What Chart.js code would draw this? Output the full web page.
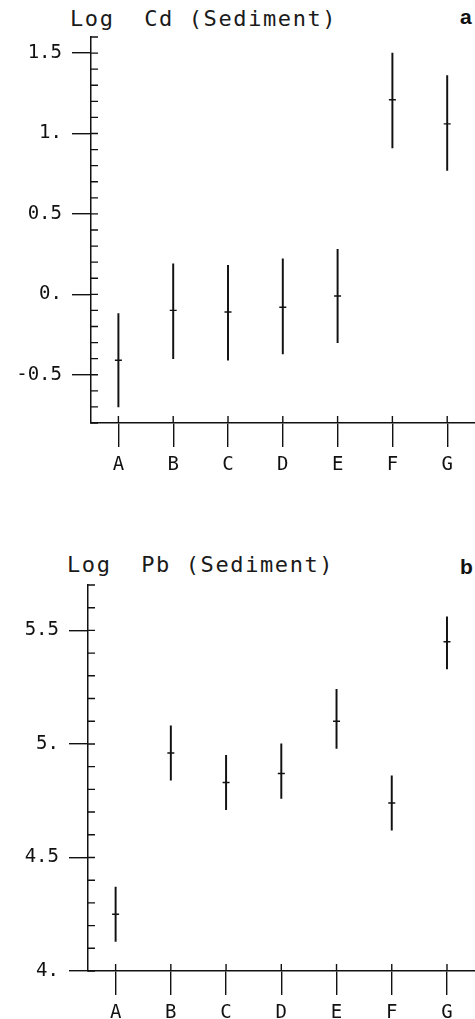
<!DOCTYPE html>
<html>
<head>
<meta charset="utf-8">
<script src="https://cdn.jsdelivr.net/npm/chart.js@4.4.1/dist/chart.umd.min.js"></script>
<style>
  html, body { margin: 0; padding: 0; background: #fff; }
  body { position: relative; width: 475px; height: 1019px; overflow: hidden; }
  canvas { position: absolute; left: 0; }
  .ttl { position: absolute; font-family: "DejaVu Sans Mono", monospace; font-size: 22px; line-height: 22px;
         letter-spacing: 1.6px; white-space: pre; color: #1a1a1a; }
  .tag { position: absolute; font-family: "Liberation Sans", Arial, sans-serif; font-weight: bold; font-size: 21px;
         line-height: 21px; color: #111; }
</style>
</head>
<body>
<div class="ttl" style="left:70px; top:8px;">Log  Cd (Sediment)</div>
<div class="tag" style="left:460px; top:6px;">a</div>
<canvas id="cdChart" width="480" height="480" style="top:0px; width:480px; height:480px;"></canvas>

<div class="ttl" style="left:67px; top:554px;">Log  Pb (Sediment)</div>
<div class="tag" style="left:460px; top:556px;">b</div>
<canvas id="pbChart" width="480" height="519" style="top:500px; width:480px; height:519px;"></canvas>

<script>
// sites along the x axis
const categories = ['A', 'B', 'C', 'D', 'E', 'F', 'G'];

// panel a - log Cd in sediment (mean and range ends)
const cdMean = [-0.41, -0.10, -0.11, -0.08, -0.01, 1.21, 1.06];
const cdLow  = [-0.70, -0.40, -0.41, -0.37, -0.30, 0.91, 0.77];
const cdHigh = [-0.12, 0.19, 0.18, 0.22, 0.28, 1.50, 1.36];

// panel b - log Pb in sediment
const pbMean = [4.25, 4.96, 4.83, 4.87, 5.10, 4.74, 5.45];
const pbLow  = [4.13, 4.84, 4.71, 4.76, 4.98, 4.62, 5.33];
const pbHigh = [4.37, 5.08, 4.95, 5.00, 5.24, 4.86, 5.56];

// y axis ranges (ticks every 0.1, labels every 0.5)
const cdRange = [-0.8, 1.6];
const pbRange = [4.0, 5.7];

const ink = '#111';
const tickFont = { family: '"DejaVu Sans Mono", monospace', size: 19 };

function isMajor(v) {//labelled tick every 0.5
  return Math.abs(v * 2 - Math.round(v * 2)) < 1e-6;
}
function fmtTick(v) {
  var r = Math.round(v * 10) / 10;
  if (Math.abs(r - Math.round(r)) < 1e-6) return Math.round(r) + '.';
  return r.toString();
}

// short ticks pointing into the plot (y) and up across the x axis
const tickMarks = {
  id: 'tickMarks',
  afterDraw(chart) {
    const ctx = chart.ctx, xs = chart.scales.x, ys = chart.scales.y;
    ctx.save();
    ctx.strokeStyle = ink;
    ctx.lineWidth = 1.4;
    ctx.beginPath();
    ys.ticks.forEach(function (t, i) {
      const py = ys.getPixelForTick(i);
      ctx.moveTo(ys.right, py);
      ctx.lineTo(ys.right + 7, py);
    });
    xs.ticks.forEach(function (t, i) {
      const px = xs.getPixelForTick(i);
      ctx.moveTo(px, xs.top);
      ctx.lineTo(px, xs.top - 7);
    });
    ctx.stroke();
    ctx.restore();
  }
};

function makeChart(id, mean, low, high, range, pad, yWidth, xHeight) {
  const ranges = low.map(function (l, i) { return [l, high[i]]; });
  return new Chart(document.getElementById(id), {
    type: 'bar',
    data: {
      labels: categories,
      datasets: [
        {
          type: 'bar',
          data: ranges,
          backgroundColor: ink,
          borderWidth: 0,
          barThickness: 1.3,
          order: 2
        },
        {
          type: 'line',
          data: mean,
          showLine: false,
          pointStyle: 'line',
          pointRadius: 3.5,
          pointBorderWidth: 1.4,
          borderColor: ink,
          backgroundColor: ink,
          order: 1
        }
      ]
    },
    options: {
      responsive: false,
      animation: false,
      devicePixelRatio: 1,
      layout: { padding: pad },
      plugins: { legend: { display: false }, tooltip: { enabled: false }, title: { display: false } },
      scales: {
        x: {
          offset: true,
          grid: { offset: false, drawOnChartArea: false, drawTicks: true, tickLength: 24, color: ink, lineWidth: 1.4 },
          border: { display: true, color: ink, width: 1.5 },
          ticks: { color: ink, font: tickFont, padding: 7, maxRotation: 0 },
          afterFit: function (s) { s.height = xHeight; }
        },
        y: {
          min: range[0],
          max: range[1],
          grid: {
            drawOnChartArea: false,
            drawTicks: true,
            tickLength: 19,
            lineWidth: 1.4,
            color: function (c) { return c.tick && isMajor(c.tick.value) ? ink : 'rgba(0,0,0,0)'; }
          },
          border: { display: true, color: ink, width: 1.5 },
          ticks: {
            stepSize: 0.1,
            autoSkip: false,
            padding: 10,
            color: ink,
            font: tickFont,
            callback: function (v) { return isMajor(v) ? fmtTick(v) : ''; }
          },
          afterFit: function (s) { s.width = yWidth; }
        }
      }
    },
    plugins: [tickMarks]
  });
}

makeChart('cdChart', cdMean, cdLow, cdHigh, cdRange, { top: 37, right: 2, bottom: 0, left: 0 }, 91, 57);
makeChart('pbChart', pbMean, pbLow, pbHigh, pbRange, { top: 85, right: 5, bottom: 0, left: 0 }, 88, 48);
</script>
</body>
</html>
